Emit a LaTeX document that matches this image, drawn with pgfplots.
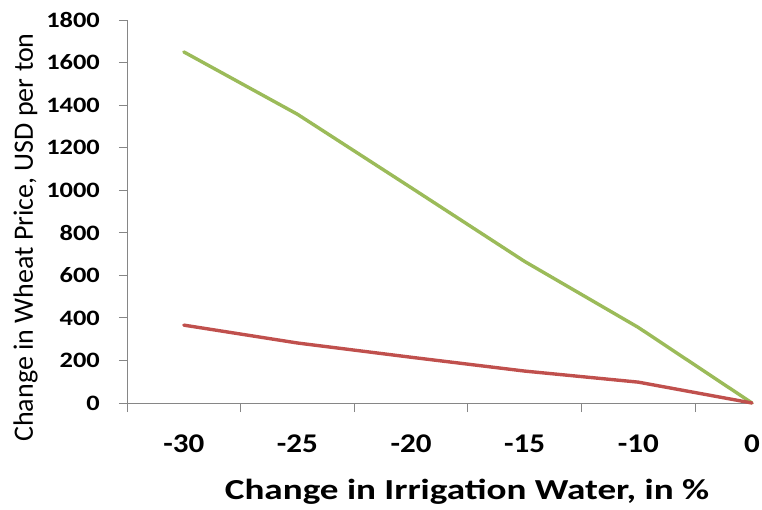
\documentclass[border=0pt]{standalone}
\usepackage{pgfplots}
\pgfplotsset{compat=1.18}
\usepackage{fontspec}
\setmainfont{Carlito}
\newfontfamily\ticksfont[FakeStretch=1.2]{Carlito}
\newfontfamily\xticksfont[FakeStretch=1.15]{Carlito}
\newfontfamily\xlabfont[FakeStretch=1.28]{Carlito}
\definecolor{xlgreen}{HTML}{9BBB59}
\definecolor{xlred}{HTML}{C0504D}
\definecolor{axisgray}{HTML}{868686}
\begin{document}
\begin{tikzpicture}
\begin{axis}[
    scale only axis,
    width=625bp, height=383bp,
    xmin=-0.5, xmax=5,
    ymin=0, ymax=1800,
    clip=false,
    axis lines*=left,
    axis line style={axisgray, line width=0.9bp},
    xtick={0,1,2,3,4,5},
    xticklabels={-30,-25,-20,-15,-10,0},
    major x tick style={draw=none},
    minor xtick={-0.5,0.5,1.5,2.5,3.5,4.5},
    minor tick length=9bp,
    minor x tick style={axisgray, line width=0.9bp},
    ytick={0,200,...,1800},
    major tick length=8bp,
    y tick style={axisgray, line width=0.9bp},
    tick align=outside,
    /pgf/number format/assume math mode=true,
    /pgf/number format/1000 sep={},
    scaled y ticks=false,
    yticklabel style={font=\fontsize{22bp}{26bp}\ticksfont\bfseries, anchor=east, inner sep=0pt, xshift=-19bp},
    xticklabel style={font=\fontsize{27bp}{32bp}\xticksfont\bfseries, anchor=base, inner sep=0pt, yshift=-41bp},
    xlabel={Change in Irrigation Water, in \%},
    ylabel={Change in Wheat Price, USD per ton},
    xlabel style={font=\fontsize{29bp}{34bp}\xlabfont\bfseries, at={(axis description cs:0.544,0)}, anchor=base, inner sep=0pt, yshift=-96bp},
    ylabel style={font=\fontsize{28bp}{32bp}\selectfont, at={(axis description cs:-0.1504,0.432)}, anchor=base, inner sep=0pt},
]
\addplot[xlgreen, line width=3.4bp, line cap=round, line join=round] coordinates {
    (0,1650) (1,1357) (2,1012) (3,665) (4,355) (5,0)};
\addplot[xlred, line width=3.4bp, line cap=round, line join=round] coordinates {
    (0,366) (1,282) (2,215) (3,150) (4,98) (5,0)};
\end{axis}
\pgfresetboundingbox
\path (-127bp,-107bp) rectangle (635bp,403bp);
\end{tikzpicture}
\end{document}
